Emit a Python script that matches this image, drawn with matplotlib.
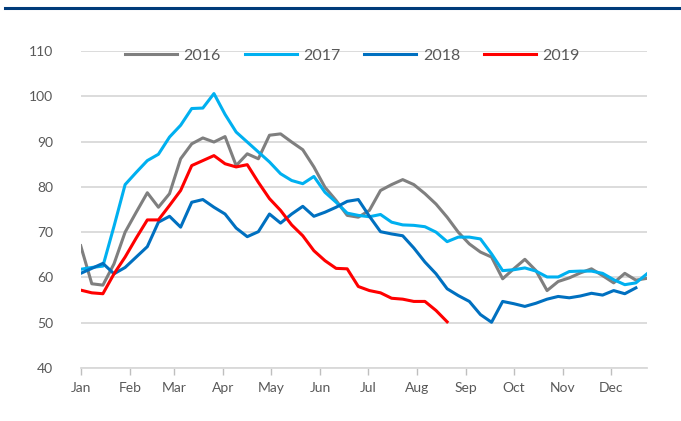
import matplotlib
matplotlib.use("Agg")
import matplotlib.pyplot as plt
import numpy as np

months = ["Jan", "Feb", "Mar", "Apr", "May", "Jun", "Jul", "Aug", "Sep", "Oct", "Nov", "Dec"]
month_start_days = [0, 31, 59, 90, 120, 151, 181, 212, 243, 273, 304, 334]

s2016 = [67.0, 58.6, 58.3, 63.0, 70.0, 74.4, 78.7, 75.5, 78.5, 86.2, 89.5, 90.8, 89.9, 91.1,
         84.7, 87.3, 86.2, 91.4, 91.7, 89.9, 88.2, 84.4, 79.9, 77.0, 73.7, 73.3, 74.8, 79.2,
         80.5, 81.6, 80.5, 78.5, 76.2, 73.3, 70.0, 67.4, 65.6, 64.5, 59.7, 61.9, 64.0, 61.5,
         57.1, 59.1, 59.9, 61.0, 61.9, 60.4, 58.8, 60.9, 59.4, 59.8]
s2017 = [61.8, 62.2, 62.5, 71.3, 80.5, 83.2, 85.8, 87.2, 91.0, 93.6, 97.3, 97.4, 100.6, 96.0,
         92.1, 89.9, 87.7, 85.5, 82.9, 81.4, 80.7, 82.3, 78.8, 76.6, 74.2, 73.7, 73.4, 73.9,
         72.2, 71.6, 71.5, 71.2, 70.0, 67.9, 68.9, 68.9, 68.5, 65.2, 61.5, 61.7, 62.1, 61.4,
         60.1, 60.1, 61.3, 61.4, 61.4, 60.9, 59.5, 58.4, 58.8, 60.8]
s2018 = [60.9, 62.0, 63.1, 60.8, 62.2, 64.5, 66.8, 72.2, 73.5, 71.1, 76.6, 77.2, 75.5, 74.0,
         70.9, 69.0, 70.1, 74.0, 72.0, 74.0, 75.7, 73.5, 74.4, 75.5, 76.8, 77.2, 73.5, 70.1,
         69.6, 69.2, 66.5, 63.4, 60.8, 57.5, 56.0, 54.7, 51.8, 50.1, 54.7, 54.2, 53.6, 54.3,
         55.2, 55.8, 55.5, 55.9, 56.5, 56.1, 57.1, 56.4, 57.7]
s2019 = [57.2, 56.6, 56.4, 60.8, 64.5, 68.7, 72.7, 72.7, 75.9, 79.2, 84.7, 85.8, 86.9, 85.1,
         84.4, 84.9, 81.0, 77.4, 74.8, 71.6, 69.2, 65.9, 63.7, 62.0, 61.9, 58.0, 57.1, 56.6,
         55.4, 55.2, 54.7, 54.7, 52.7, 50.2]

series = [("2016", s2016, "#7F7F7F"),
          ("2017", s2017, "#00B0F0"),
          ("2018", s2018, "#0070C0"),
          ("2019", s2019, "#FF0000")]

plt.rcParams['font.family'] = ['Lato', 'DejaVu Sans']

fig = plt.figure(figsize=(6.81, 4.21), dpi=100)
ax = fig.add_axes([80.7 / 681, 1 - 368 / 421, (647 - 80.7) / 681, (368 - 51) / 421])

lines = []
for name, vals, col in series:
    x = np.arange(len(vals))
    ln, = ax.plot(x, vals, color=col, lw=2.2, label=name, solid_joinstyle='round')
    lines.append(ln)

ax.set_xlim(0, 51)
ax.set_ylim(40, 110)
ax.set_yticks(np.arange(40, 111, 10))
ax.set_xticks([d / 7 for d in month_start_days])
ax.set_xticklabels(months)
ax.yaxis.grid(True, color="#D9D9D9", lw=1.3)
ax.set_axisbelow(True)
for s in ["top", "right", "left"]:
    ax.spines[s].set_visible(False)
ax.spines["bottom"].set_color("#D9D9D9")
ax.spines["bottom"].set_linewidth(1.3)
ax.tick_params(axis='x', colors="#BFBFBF", length=5, width=1, pad=5, labelcolor="#595959", labelsize=10)
ax.tick_params(axis='y', length=0, pad=20, labelcolor="#595959", labelsize=10)

fig.legend(handles=lines, loc='center', bbox_to_anchor=(352.5 / 681, 1 - 56 / 421),
           ncol=4, frameon=False, fontsize=11.5, handlelength=3.25, handletextpad=0.4,
           columnspacing=1.5, labelcolor="#595959")

# top rule
fig.add_artist(plt.Line2D([5 / 681, 1], [1 - 8 / 421, 1 - 8 / 421], color="#003B7A", lw=2.2))

fig.savefig("out.png", dpi=100)
